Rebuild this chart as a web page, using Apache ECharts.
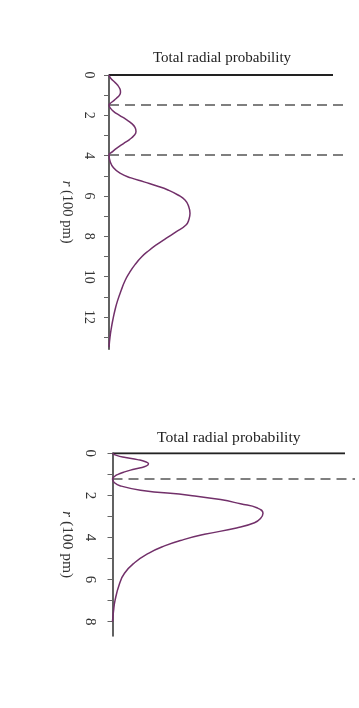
<!DOCTYPE html>
<html>
<head>
<meta charset="utf-8">
<script src="https://cdn.jsdelivr.net/npm/echarts@6/dist/echarts.min.js"></script>
<style>
html,body{margin:0;padding:0;background:#fff;}
#c{width:359px;height:708px;}
</style>
</head>
<body>
<div id="c"></div>
<script>
// ---- data (r in 100 pm, probability in arbitrary units) ----
var titleText = 'Total radial probability';
var axisName = '{i|r} (100 pm)';
var topTickValues = [0,1,2,3,4,5,6,7,8,9,10,11,12,13];
var topLabelValues = [0,2,4,6,8,10,12];
var topNodes = [1.49, 3.97];
var topR = [0,0.15,0.3,0.5,0.7,0.85,1.0,1.15,1.3,1.42,1.49,
            1.6,1.8,2.0,2.2,2.4,2.6,2.8,3.0,3.2,3.4,3.6,3.8,3.97,
            4.3,4.6,4.87,5.1,5.3,5.5,5.7,5.95,6.2,6.5,6.86,7.15,7.44,7.78,8.1,8.4,8.7,9.0,9.4,9.8,10.2,10.66,11.2,11.65,12.1,12.5,13.0,13.5];
var topP = [0,1.5,4.5,8.5,11,11.5,10.5,7.5,4,1,0,
            0.8,4.5,10.5,17,22.5,26,27,25,20.5,14.5,8.5,3.5,0,
            1.2,4.5,11,22,35,48,59,69,76,79.5,81,80,77,67,57,48,40,33,26,20.5,16,12.3,8.5,6,4,2.5,1,0];
var topRMax = 13.6;

var botTickValues = [0,1,2,3,4,5,6,7,8];
var botLabelValues = [0,2,4,6,8];
var botNodes = [1.22];
var botR = [0,0.1,0.2,0.3,0.4,0.5,0.6,0.7,0.8,0.9,1.0,1.1,1.22,
            1.4,1.55,1.75,2.0,2.2,2.4,2.6,2.85,3.1,3.3,3.55,3.85,4.1,4.4,4.75,5.2,5.7,6.2,7.0,7.5,8.0];
var botP = [0,4,13,25,33,36,34,27,18,11,5.5,2,0,
            2,8,28,78,108,128,145,150.5,148,142,124,92,71,52,36,22,12,7,2.5,1,0];
var botRMax = 8.68;

// ---- layout/style ----
var FONT = 'Liberation Serif';
var CURVE = '#72306a';
var topPMax = 234, topLineEnd = 224;
var botPMax = 242.5, botLineEnd = 232.5;

function zip(a, b){ return a.map(function(v,i){ return [b[i], v]; }); }

function yAxisDef(gi, max, ticks, labels, margin, nameGap, fs, nfs){
  return {
    gridIndex: gi, type: 'value', inverse: true, min: 0, max: max,
    axisLine: {show: true, lineStyle: {color: '#3a3a3a', width: 1.6}},
    axisTick: {show: true, customValues: ticks, length: 5, inside: false, lineStyle: {color: '#666', width: 1}},
    axisLabel: {show: true, customValues: labels, rotate: -90, margin: margin, color: '#333', fontFamily: FONT, fontSize: fs},
    splitLine: {show: false},
    name: axisName, nameLocation: 'middle', nameRotate: -90, nameGap: nameGap,
    nameTextStyle: {color: '#333', fontFamily: FONT, fontSize: nfs, rich: {i: {fontStyle: 'italic', fontFamily: FONT, fontSize: nfs, color: '#333'}}}
  };
}
function xAxisDef(gi, max){
  return {gridIndex: gi, type: 'value', min: 0, max: max, show: false};
}
function dashSeries(gi, nodes, pmax){
  return nodes.map(function(n){
    return {type: 'line', xAxisIndex: gi, yAxisIndex: gi, data: [[0, n], [pmax, n]], symbol: 'none', silent: true,
      lineStyle: {color: '#555', width: 1.5, type: [10, 6]}, z: 1};
  });
}

var option = {
  animation: false,
  backgroundColor: '#fff',
  title: [
    {text: titleText, left: 153, top: 51, padding: 0, textStyle: {fontFamily: FONT, fontWeight: 'normal', fontSize: 15, color: '#222'}},
    {text: titleText, left: 157, top: 430, padding: 0, textStyle: {fontFamily: FONT, fontWeight: 'normal', fontSize: 15.6, color: '#222'}}
  ],
  grid: [
    {left: 109, top: 75, width: 234, height: 274.3},
    {left: 112.5, top: 453.3, width: 242.5, height: 182.7}
  ],
  xAxis: [xAxisDef(0, topPMax), xAxisDef(1, botPMax)],
  yAxis: [
    yAxisDef(0, topRMax, topTickValues, topLabelValues, 13, 30, 14, 14.5),
    yAxisDef(1, botRMax, botTickValues, botLabelValues, 15, 33, 15, 15.5)
  ],
  series: [].concat(
    dashSeries(0, topNodes, topPMax),
    dashSeries(1, botNodes, botPMax),
    [
      {type: 'line', xAxisIndex: 0, yAxisIndex: 0, data: [[0,0],[topLineEnd,0]], symbol: 'none', silent: true, lineStyle: {color: '#222', width: 2}, z: 3},
      {type: 'line', xAxisIndex: 1, yAxisIndex: 1, data: [[0,0],[botLineEnd,0]], symbol: 'none', silent: true, lineStyle: {color: '#222', width: 2}, z: 3},
      {type: 'line', xAxisIndex: 0, yAxisIndex: 0, data: zip(topR, topP), symbol: 'none', smooth: 0.5, lineStyle: {color: CURVE, width: 1.5}, z: 4},
      {type: 'line', xAxisIndex: 1, yAxisIndex: 1, data: zip(botR, botP), symbol: 'none', smooth: 0.5, lineStyle: {color: CURVE, width: 1.5}, z: 4}
    ]
  )
};
var chart = echarts.init(document.getElementById('c'), null, {renderer: 'canvas'});
chart.setOption(option);
</script>
</body>
</html>
